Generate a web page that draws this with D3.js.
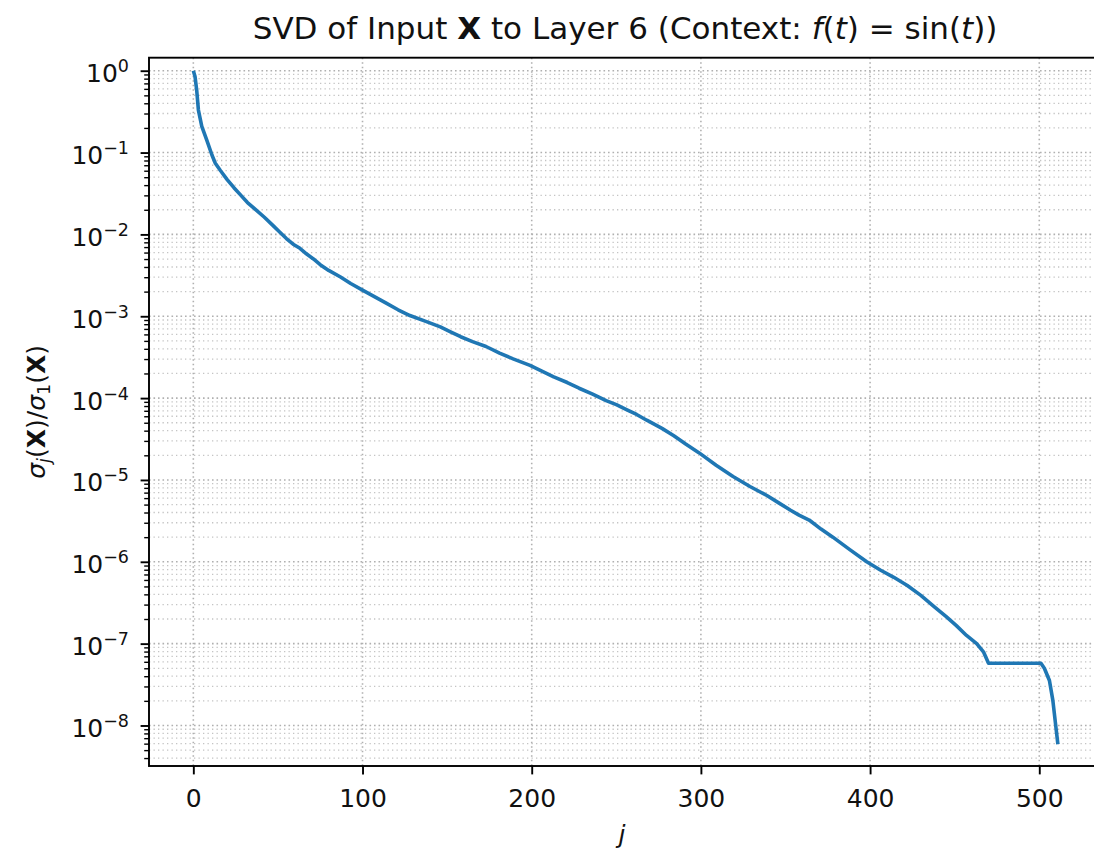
<!DOCTYPE html>
<html>
<head>
<meta charset="utf-8">
<script src="https://cdn.jsdelivr.net/npm/d3@7"></script>
<style>
  body { margin: 0; background: #fff; }
  svg { display: block; font-family: "DejaVu Sans", sans-serif; }
</style>
</head>
<body>
<svg id="chart" width="1094" height="851"></svg>
<script>
// singular value index j
var jIdx = [0, 1, 2, 3, 5, 8, 11, 13, 16, 20, 24, 28, 32, 37, 42, 47, 51, 55, 59, 63,
  67, 71, 75, 80, 87, 93, 100, 107, 114, 121, 128, 137, 146, 152, 158, 165, 173, 181, 189, 199,
  206, 213, 221, 228, 236, 244, 250, 256, 262, 268, 277, 284, 291, 299, 309, 319, 329, 339, 346, 353,
  358, 364, 371, 378, 388, 398, 406, 414, 422, 430, 438, 445, 451, 457, 463, 467, 470, 501, 503, 506,
  508, 510, 511];
// sigma_j / sigma_1
var ratio = [1, 0.851, 0.575, 0.331, 0.209, 0.141, 0.0933, 0.0741, 0.0603, 0.0468, 0.0372, 0.0302, 0.0245, 0.0200, 0.0162, 0.0129, 0.0107, 8.91e-3, 7.59e-3, 6.76e-3,
  5.75e-3, 5.01e-3, 4.27e-3, 3.63e-3, 3.02e-3, 2.51e-3, 2.09e-3, 1.74e-3, 1.45e-3, 1.20e-3, 1.02e-3, 8.71e-4, 7.41e-4, 6.46e-4, 5.62e-4, 4.90e-4, 4.27e-4, 3.55e-4, 3.02e-4, 2.51e-4,
  2.14e-4, 1.82e-4, 1.55e-4, 1.32e-4, 1.12e-4, 9.33e-5, 8.32e-5, 7.24e-5, 6.31e-5, 5.37e-5, 4.27e-5, 3.47e-5, 2.75e-5, 2.14e-5, 1.51e-5, 1.10e-5, 8.32e-6, 6.46e-6, 5.25e-6, 4.27e-6,
  3.72e-6, 3.24e-6, 2.51e-6, 2.00e-6, 1.41e-6, 1.00e-6, 7.94e-7, 6.46e-7, 5.13e-7, 3.89e-7, 2.82e-7, 2.14e-7, 1.66e-7, 1.26e-7, 1.00e-7, 7.94e-8, 5.75e-8, 5.75e-8, 5.01e-8, 3.55e-8,
  2.04e-8, 8.91e-9, 5.89e-9];

var xTicks = [0, 100, 200, 300, 400, 500];
var yExps = [0, -1, -2, -3, -4, -5, -6, -7, -8];
var yMinorMult = [2, 3, 4, 5, 6, 7, 8, 9];

var plotL = 149, plotR = 1101.2, plotT = 57.7, plotB = 766;

var svg = d3.select("#chart");

var x = d3.scaleLinear().domain([-26.2, 536.6]).range([plotL, plotR]);
var y = d3.scaleLog().domain([Math.pow(10, -8.495), Math.pow(10, 0.159)]).range([plotB, plotT]);

var yMajor = yExps.map(function (e) { return Math.pow(10, e); });
var yMinor = [];
yExps.forEach(function (e) {
  yMinorMult.forEach(function (m) {
    var v = m * Math.pow(10, e - 1);
    if (y(v) >= plotT && y(v) <= plotB) yMinor.push(v);
  });
});
// minor ticks of the decade 10^0..10^1 that fall inside the axes
yMinorMult.forEach(function (m) { if (y(m) >= plotT) yMinor.push(m); });

// grid
var grid = svg.append("g");
grid.selectAll(".ymin").data(yMinor).enter().append("line")
  .attr("x1", plotL).attr("x2", plotR)
  .attr("y1", function (d) { return y(d); }).attr("y2", function (d) { return y(d); })
  .attr("stroke", "#c4c4c4").attr("stroke-width", 1.3).attr("stroke-dasharray", "1.3,3.2");
grid.selectAll(".ymaj").data(yMajor).enter().append("line")
  .attr("x1", plotL).attr("x2", plotR)
  .attr("y1", function (d) { return y(d); }).attr("y2", function (d) { return y(d); })
  .attr("stroke", "#b0b0b0").attr("stroke-width", 1.6).attr("stroke-dasharray", "1.6,2.9");
grid.selectAll(".xmaj").data(xTicks).enter().append("line")
  .attr("y1", plotT).attr("y2", plotB)
  .attr("x1", function (d) { return x(d); }).attr("x2", function (d) { return x(d); })
  .attr("stroke", "#b0b0b0").attr("stroke-width", 1.6).attr("stroke-dasharray", "1.6,2.9");

// data line
var pts = jIdx.map(function (j, i) { return [j, ratio[i]]; });
var line = d3.line()
  .x(function (d) { return x(d[0]); })
  .y(function (d) { return y(d[1]); });
svg.append("path")
  .attr("d", line(pts))
  .attr("fill", "none")
  .attr("stroke", "#1f77b4")
  .attr("stroke-width", 3.6)
  .attr("stroke-linejoin", "round");

// x axis
var xAxis = d3.axisBottom(x).tickValues(xTicks).tickSize(8.4).tickPadding(8).tickSizeOuter(0);
var gx = svg.append("g").attr("transform", "translate(0," + plotB + ")").call(xAxis);
gx.select(".domain").remove();
gx.selectAll(".tick line").attr("stroke", "#000").attr("stroke-width", 1.9);
gx.selectAll(".tick text").attr("font-size", 25).attr("fill", "#111")
  .attr("font-family", "DejaVu Sans").attr("y", 41).attr("dy", 0);

// y axis minor ticks
var yAxisMinor = d3.axisLeft(y).tickValues(yMinor).tickSize(4.8).tickFormat(function () { return ""; }).tickSizeOuter(0);
var gym = svg.append("g").attr("transform", "translate(" + plotL + ",0)").call(yAxisMinor);
gym.select(".domain").remove();
gym.selectAll(".tick line").attr("stroke", "#000").attr("stroke-width", 1.4);

// y axis major ticks, labels as 10^k
var yAxis = d3.axisLeft(y).tickValues(yMajor).tickSize(8.4).tickPadding(8).tickFormat(function () { return ""; }).tickSizeOuter(0);
var gy = svg.append("g").attr("transform", "translate(" + plotL + ",0)").call(yAxis);
gy.select(".domain").remove();
gy.selectAll(".tick line").attr("stroke", "#000").attr("stroke-width", 1.9);
gy.selectAll(".tick text").each(function (d, i) {
  var t = d3.select(this)
    .attr("font-size", 25).attr("fill", "#111").attr("font-family", "DejaVu Sans")
    .attr("dy", 11).attr("x", -20);
  t.append("tspan").text("10");
  var e = yExps[i];
  t.append("tspan").attr("dy", -10).attr("font-size", 17.5)
    .text(e === 0 ? "0" : "\u2212" + Math.abs(e));
});

// spines
svg.append("rect")
  .attr("x", plotL).attr("y", plotT)
  .attr("width", plotR - plotL).attr("height", plotB - plotT)
  .attr("fill", "none").attr("stroke", "#000").attr("stroke-width", 1.9);

// title
var title = svg.append("text")
  .attr("x", (plotL + plotR) / 2).attr("y", 39)
  .attr("text-anchor", "middle").attr("font-size", 31).attr("fill", "#111");
title.append("tspan").text("SVD of Input ");
title.append("tspan").attr("font-weight", "bold").text("X");
title.append("tspan").text(" to Layer 6 (Context: ");
title.append("tspan").attr("font-style", "italic").text("f");
title.append("tspan").text("(");
title.append("tspan").attr("font-style", "italic").text("t");
title.append("tspan").text(") = sin(");
title.append("tspan").attr("font-style", "italic").text("t");
title.append("tspan").text("))");

// x label
svg.append("text")
  .attr("x", (plotL + plotR) / 2 - 3).attr("y", 843)
  .attr("text-anchor", "middle").attr("font-size", 25).attr("font-style", "italic")
  .attr("fill", "#111").text("j");

// y label
var yl = svg.append("text")
  .attr("transform", "translate(45," + (plotT + plotB) / 2 + ") rotate(-90)")
  .attr("text-anchor", "middle").attr("font-size", 25).attr("fill", "#111");
yl.append("tspan").attr("font-style", "italic").text("\u03c3");
yl.append("tspan").attr("font-style", "italic").attr("font-size", 17.5).attr("dy", 5).text("j");
yl.append("tspan").attr("dy", -5).text("(");
yl.append("tspan").attr("font-weight", "bold").text("X");
yl.append("tspan").text(")/");
yl.append("tspan").attr("font-style", "italic").text("\u03c3");
yl.append("tspan").attr("font-size", 17.5).attr("dy", 5).text("1");
yl.append("tspan").attr("dy", -5).text("(");
yl.append("tspan").attr("font-weight", "bold").text("X");
yl.append("tspan").text(")");
</script>
</body>
</html>
